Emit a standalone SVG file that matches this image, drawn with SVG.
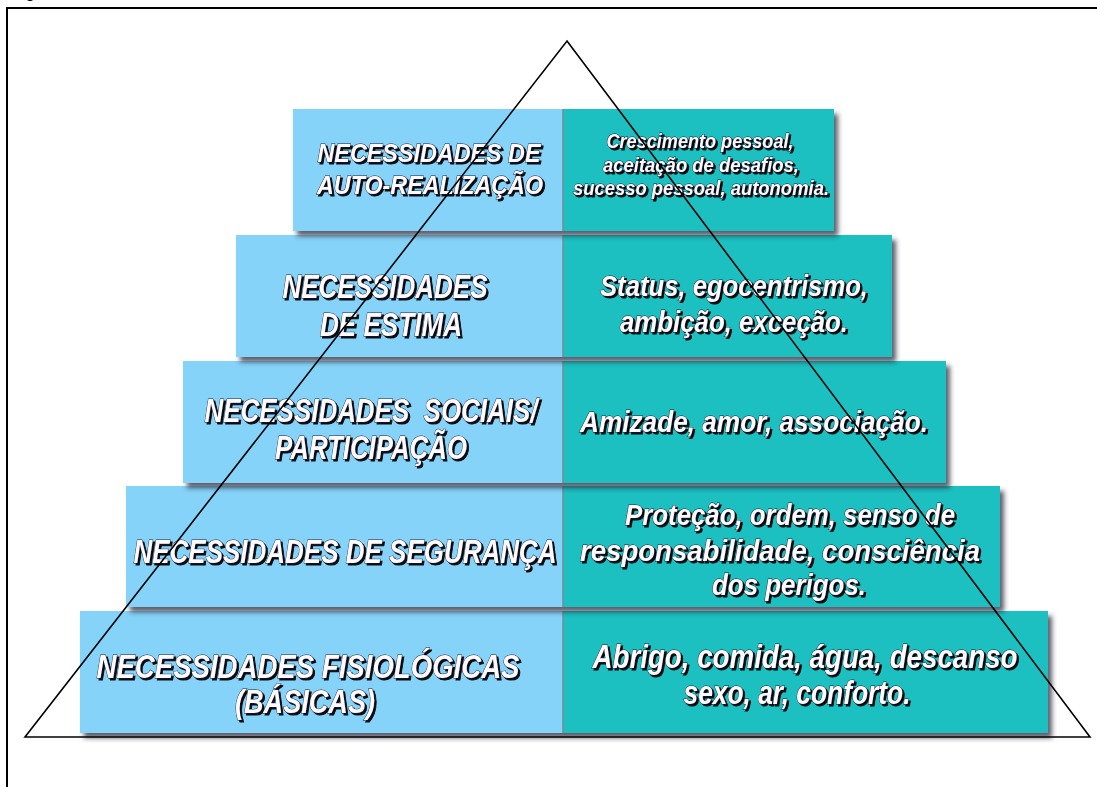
<svg xmlns="http://www.w3.org/2000/svg" width="1097" height="787" viewBox="0 0 1097 787">
  <defs>
    <filter id="boxShadow" x="-5%" y="-10%" width="115%" height="130%">
      <feDropShadow dx="4" dy="5" stdDeviation="2.5" flood-color="#2a2a3a" flood-opacity="0.75"/>
    </filter>
    <filter id="txtShadow" x="-5%" y="-20%" width="115%" height="150%">
      <feDropShadow dx="2" dy="2" stdDeviation="0.6" flood-color="#000000" flood-opacity="0.95"/>
    </filter>
  </defs>
  <style>
    .lb { fill: #86d3f9; }
    .tl { fill: #1cc0c0; }
    .sep { stroke: #6f8f9a; stroke-width: 1.5; }
    .t { font-family: "Liberation Sans", Arial, sans-serif; font-weight: bold; font-style: italic;
         fill: #fffafc; stroke: #1d1d3a; stroke-width: 1; paint-order: stroke;
         text-anchor: middle; filter: url(#txtShadow); }
    .s33 { font-size: 33px; }
    .s30 { font-size: 30px; }
    .s26 { font-size: 26px; }
    .s20 { font-size: 20px; }
    .frame { fill: none; stroke: #000000; stroke-width: 2; }
    .tri { fill: none; stroke: #000000; stroke-width: 1.6; stroke-linejoin: miter; }
  </style>

  <rect width="1097" height="787" fill="#ffffff"/>
  <text x="25" y="-3" font-family="Liberation Sans, Arial, sans-serif" font-size="18" fill="#000">g</text>
  <rect class="frame" x="7" y="8" width="1100" height="800"/>

  <!-- Tier 5 (bottom) -->
  <g id="tier5">
    <g filter="url(#boxShadow)">
      <rect class="lb" x="80" y="611" width="483" height="122"/>
      <rect class="tl" x="563" y="611" width="485" height="122"/>
    </g>
    <line class="sep" x1="563" y1="611" x2="563" y2="733"/>
    <text class="t s33" x="308" y="678" textLength="423" lengthAdjust="spacingAndGlyphs">NECESSIDADES FISIOLÓGICAS</text>
    <text class="t s33" x="305" y="713" textLength="140" lengthAdjust="spacingAndGlyphs">(BÁSICAS)</text>
    <text class="t s33" x="805" y="668" textLength="425" lengthAdjust="spacingAndGlyphs">Abrigo, comida, água, descanso</text>
    <text class="t s33" x="797" y="704" textLength="227" lengthAdjust="spacingAndGlyphs">sexo, ar, conforto.</text>
  </g>

  <!-- Tier 4 -->
  <g id="tier4">
    <g filter="url(#boxShadow)">
      <rect class="lb" x="126" y="486" width="437" height="121"/>
      <rect class="tl" x="563" y="486" width="437" height="121"/>
    </g>
    <line class="sep" x1="563" y1="486" x2="563" y2="607"/>
    <text class="t s33" x="345" y="563" textLength="423" lengthAdjust="spacingAndGlyphs">NECESSIDADES DE SEGURANÇA</text>
    <text class="t s30" x="790" y="525" textLength="330" lengthAdjust="spacingAndGlyphs">Proteção, ordem, senso de</text>
    <text class="t s30" x="780" y="561" textLength="400" lengthAdjust="spacingAndGlyphs">responsabilidade, consciência</text>
    <text class="t s30" x="789" y="595" textLength="154" lengthAdjust="spacingAndGlyphs">dos perigos.</text>
  </g>

  <!-- Tier 3 -->
  <g id="tier3">
    <g filter="url(#boxShadow)">
      <rect class="lb" x="183" y="361" width="380" height="122"/>
      <rect class="tl" x="563" y="361" width="383" height="122"/>
    </g>
    <line class="sep" x1="563" y1="361" x2="563" y2="483"/>
    <text class="t s33" x="371" y="422" textLength="333" lengthAdjust="spacingAndGlyphs" xml:space="preserve">NECESSIDADES  SOCIAIS/</text>
    <text class="t s33" x="371" y="459" textLength="192" lengthAdjust="spacingAndGlyphs">PARTICIPAÇÃO</text>
    <text class="t s30" x="754" y="432" textLength="348" lengthAdjust="spacingAndGlyphs">Amizade, amor, associação.</text>
  </g>

  <!-- Tier 2 -->
  <g id="tier2">
    <g filter="url(#boxShadow)">
      <rect class="lb" x="236" y="235" width="327" height="122"/>
      <rect class="tl" x="563" y="235" width="329" height="122"/>
    </g>
    <line class="sep" x1="563" y1="235" x2="563" y2="357"/>
    <text class="t s33" x="385" y="298" textLength="205" lengthAdjust="spacingAndGlyphs">NECESSIDADES</text>
    <text class="t s33" x="391" y="336" textLength="142" lengthAdjust="spacingAndGlyphs">DE ESTIMA</text>
    <text class="t s30" x="734" y="296" textLength="268" lengthAdjust="spacingAndGlyphs">Status, egocentrismo,</text>
    <text class="t s30" x="734" y="332" textLength="228" lengthAdjust="spacingAndGlyphs">ambição, exceção.</text>
  </g>

  <!-- Tier 1 (top) -->
  <g id="tier1">
    <g filter="url(#boxShadow)">
      <rect class="lb" x="293" y="109" width="270" height="122"/>
      <rect class="tl" x="563" y="109" width="271" height="122"/>
    </g>
    <line class="sep" x1="563" y1="109" x2="563" y2="231"/>
    <text class="t s26" x="429" y="162" textLength="223" lengthAdjust="spacingAndGlyphs">NECESSIDADES DE</text>
    <text class="t s26" x="430" y="194" textLength="226" lengthAdjust="spacingAndGlyphs">AUTO-REALIZAÇÃO</text>
    <text class="t s20" x="700" y="148" textLength="187" lengthAdjust="spacingAndGlyphs">Crescimento pessoal,</text>
    <text class="t s20" x="701" y="172" textLength="196" lengthAdjust="spacingAndGlyphs">aceitação de desafios,</text>
    <text class="t s20" x="701" y="195" textLength="256" lengthAdjust="spacingAndGlyphs">sucesso pessoal, autonomia.</text>
  </g>

  <!-- Overlay triangle -->
  <g id="connectors">
    <polygon class="tri" points="567,41 1090,737 25,737"/>
  </g>
</svg>
